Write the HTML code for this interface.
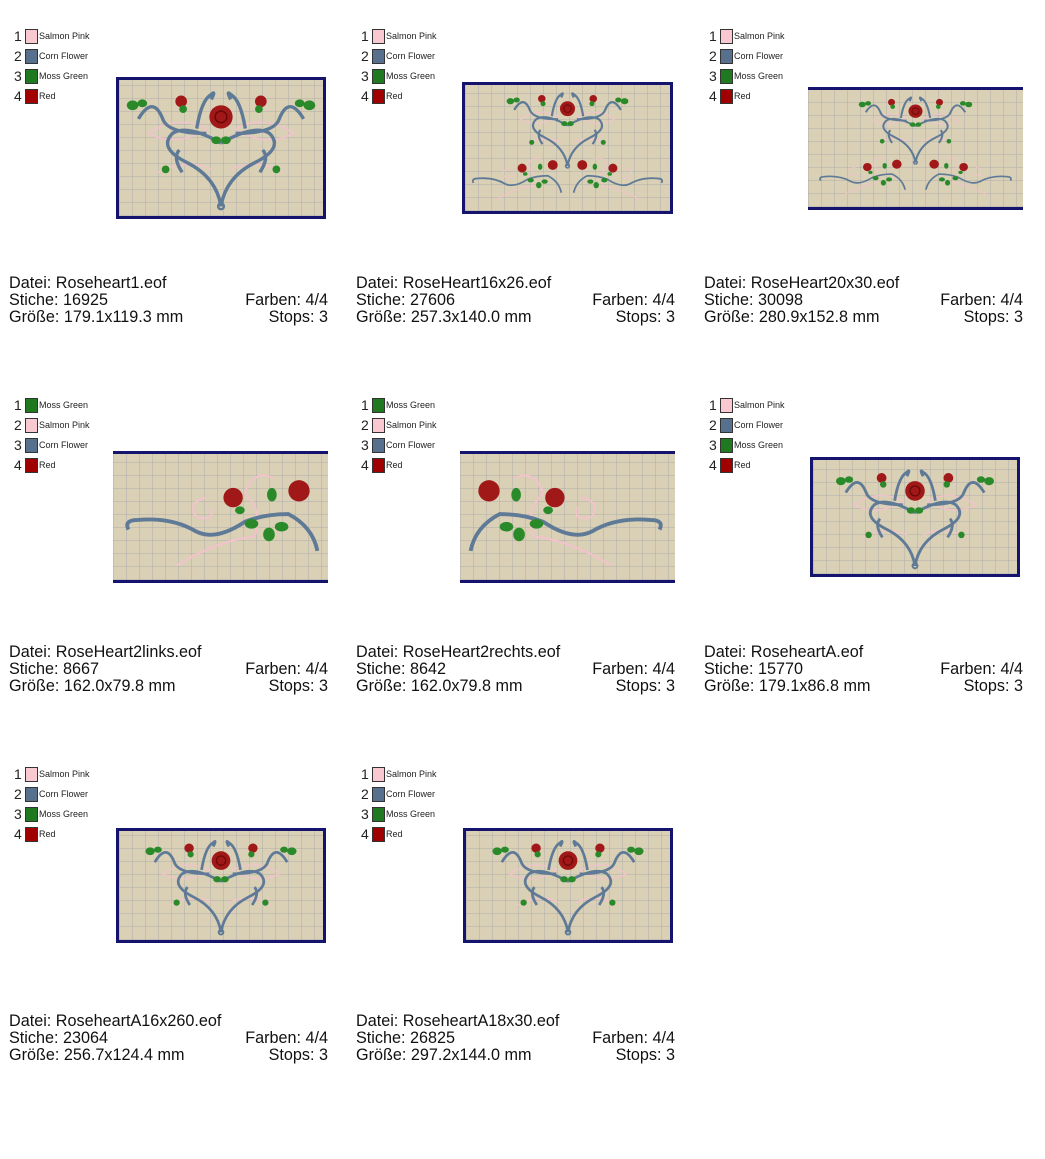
<!DOCTYPE html>
<html><head><meta charset="utf-8"><style>
body{margin:0;width:1045px;height:1159px;background:#fff;position:relative;overflow:hidden;font-family:"Liberation Sans",Arial,sans-serif;}
.lg{position:absolute;width:120px;}
.lg div{position:relative;height:20px;}
.lg .n{position:absolute;left:0;top:0;font-size:14px;line-height:16px;color:#222;}
.lg .s{position:absolute;left:11px;top:1px;width:11px;height:13px;border:1px solid #333;}
.lg .t{position:absolute;left:25px;top:3px;font-size:9px;line-height:10px;color:#222;}
.sp{background:#f9c8d0}.cf{background:#56708e}.mg{background:#1f7a1f}.rd{background:#a00000}
.tx{position:absolute;width:319px;font-size:16.2px;line-height:17px;color:#111;}
.tx div{position:relative;height:17px;white-space:nowrap;}
.tx span{position:absolute;right:0;top:0;}
.im{position:absolute;box-sizing:border-box;background-color:#d9d0b6;
background-image:repeating-linear-gradient(90deg,rgba(160,160,170,.35) 0 1px,transparent 1px 13px),repeating-linear-gradient(0deg,rgba(160,160,170,.35) 0 1px,transparent 1px 13px);}
.fb{border:3px solid #14146e}.tb{border-top:3px solid #14146e;border-bottom:3px solid #14146e}
.im svg{position:absolute;left:0;top:0;width:100%;height:100%;}
</style></head><body>
<svg width="0" height="0" style="position:absolute">
<defs>
<symbol id="heart" viewBox="0 0 210 140">
<g fill="none" stroke="#f4c2cc" stroke-width="1.5"><path d="M30 55 Q60 35 90 50 Q60 70 30 55Z"/><path d="M180 55 Q150 35 120 50 Q150 70 180 55Z"/><path d="M40 95 Q70 80 95 92"/><path d="M170 95 Q140 80 115 92"/></g>
<g fill="none" stroke="#5f7a96" stroke-width="3.5">
<path d="M105 130 Q100 100 70 85 Q40 70 55 55 Q70 45 105 65"/><path d="M105 130 Q110 100 140 85 Q170 70 155 55 Q140 45 105 65"/>
<path d="M20 40 Q35 15 45 40 Q50 55 90 55"/><path d="M190 40 Q175 15 165 40 Q160 55 120 55"/>
<path d="M80 50 Q85 20 95 15 Q100 10 95 20"/><path d="M130 50 Q125 20 115 15 Q110 10 115 20"/>
<path d="M65 95 Q55 80 62 72"/><path d="M145 95 Q155 80 148 72"/><circle cx="105" cy="130" r="3" stroke-width="2.5"/></g>
<circle cx="105" cy="38" r="12" fill="#a01818"/><circle cx="105" cy="38" r="6" fill="none" stroke="#6a0808" stroke-width="1.5"/>
<circle cx="64" cy="22" r="6" fill="#a01818"/><circle cx="146" cy="22" r="6" fill="#a01818"/>
<g fill="#2a8a2a"><ellipse cx="100" cy="62" rx="5" ry="4"/><ellipse cx="110" cy="62" rx="5" ry="4"/><ellipse cx="14" cy="26" rx="6" ry="5"/><ellipse cx="24" cy="24" rx="5" ry="4"/><ellipse cx="196" cy="26" rx="6" ry="5"/><ellipse cx="186" cy="24" rx="5" ry="4"/><ellipse cx="66" cy="30" rx="4" ry="4"/><ellipse cx="144" cy="30" rx="4" ry="4"/><ellipse cx="48" cy="92" rx="4" ry="4"/><ellipse cx="162" cy="92" rx="4" ry="4"/></g>
</symbol>
<symbol id="vine" viewBox="0 0 210 130">
<g fill="none" stroke="#f4c2cc" stroke-width="2"><path d="M60 115 Q100 90 140 85 Q150 60 130 40 Q140 15 160 25"/><path d="M90 45 Q70 50 80 65 Q100 70 95 55"/></g>
<path d="M10 78 Q5 68 20 68 Q55 65 80 80 Q100 90 130 70 Q150 62 175 62 Q200 75 205 100" fill="none" stroke="#5f7a96" stroke-width="4"/>
<circle cx="118" cy="45" r="10" fill="#a01818"/><circle cx="186" cy="38" r="11" fill="#a01818"/>
<g fill="#2a8a2a"><ellipse cx="158" cy="42" rx="5" ry="7"/><ellipse cx="137" cy="72" rx="7" ry="5"/><ellipse cx="155" cy="83" rx="6" ry="7"/><ellipse cx="168" cy="75" rx="7" ry="5"/><ellipse cx="125" cy="58" rx="5" ry="4"/></g>
</symbol>
<symbol id="vineR" viewBox="0 0 210 130"><g transform="translate(210 0) scale(-1 1)"><use href="#vine"/></g></symbol>
</defs></svg>

<div class="lg" style="left:14px;top:28px"><div><span class="n">1</span><span class="s sp"></span><span class="t">Salmon Pink</span></div><div><span class="n">2</span><span class="s cf"></span><span class="t">Corn Flower</span></div><div><span class="n">3</span><span class="s mg"></span><span class="t">Moss Green</span></div><div><span class="n">4</span><span class="s rd"></span><span class="t">Red</span></div></div>
<div class="lg" style="left:361px;top:28px"><div><span class="n">1</span><span class="s sp"></span><span class="t">Salmon Pink</span></div><div><span class="n">2</span><span class="s cf"></span><span class="t">Corn Flower</span></div><div><span class="n">3</span><span class="s mg"></span><span class="t">Moss Green</span></div><div><span class="n">4</span><span class="s rd"></span><span class="t">Red</span></div></div>
<div class="lg" style="left:709px;top:28px"><div><span class="n">1</span><span class="s sp"></span><span class="t">Salmon Pink</span></div><div><span class="n">2</span><span class="s cf"></span><span class="t">Corn Flower</span></div><div><span class="n">3</span><span class="s mg"></span><span class="t">Moss Green</span></div><div><span class="n">4</span><span class="s rd"></span><span class="t">Red</span></div></div>

<div class="lg" style="left:14px;top:397px"><div><span class="n">1</span><span class="s mg"></span><span class="t">Moss Green</span></div><div><span class="n">2</span><span class="s sp"></span><span class="t">Salmon Pink</span></div><div><span class="n">3</span><span class="s cf"></span><span class="t">Corn Flower</span></div><div><span class="n">4</span><span class="s rd"></span><span class="t">Red</span></div></div>
<div class="lg" style="left:361px;top:397px"><div><span class="n">1</span><span class="s mg"></span><span class="t">Moss Green</span></div><div><span class="n">2</span><span class="s sp"></span><span class="t">Salmon Pink</span></div><div><span class="n">3</span><span class="s cf"></span><span class="t">Corn Flower</span></div><div><span class="n">4</span><span class="s rd"></span><span class="t">Red</span></div></div>
<div class="lg" style="left:709px;top:397px"><div><span class="n">1</span><span class="s sp"></span><span class="t">Salmon Pink</span></div><div><span class="n">2</span><span class="s cf"></span><span class="t">Corn Flower</span></div><div><span class="n">3</span><span class="s mg"></span><span class="t">Moss Green</span></div><div><span class="n">4</span><span class="s rd"></span><span class="t">Red</span></div></div>

<div class="lg" style="left:14px;top:766px"><div><span class="n">1</span><span class="s sp"></span><span class="t">Salmon Pink</span></div><div><span class="n">2</span><span class="s cf"></span><span class="t">Corn Flower</span></div><div><span class="n">3</span><span class="s mg"></span><span class="t">Moss Green</span></div><div><span class="n">4</span><span class="s rd"></span><span class="t">Red</span></div></div>
<div class="lg" style="left:361px;top:766px"><div><span class="n">1</span><span class="s sp"></span><span class="t">Salmon Pink</span></div><div><span class="n">2</span><span class="s cf"></span><span class="t">Corn Flower</span></div><div><span class="n">3</span><span class="s mg"></span><span class="t">Moss Green</span></div><div><span class="n">4</span><span class="s rd"></span><span class="t">Red</span></div></div>

<div class="im fb" style="left:116px;top:77px;width:210px;height:142px"><svg preserveAspectRatio="none"><use href="#heart"/></svg></div>
<div class="im fb" style="left:462px;top:82px;width:211px;height:132px"><svg viewBox="0 0 210 130" preserveAspectRatio="none"><use href="#heart" width="210" height="90" x="0" y="0"/><use href="#vine" width="105" height="60" x="0" y="65"/><use href="#vineR" width="105" height="60" x="105" y="65"/></svg></div>
<div class="im tb" style="left:808px;top:87px;width:215px;height:123px"><svg viewBox="0 0 210 120" preserveAspectRatio="none"><use href="#heart" width="210" height="80" x="0" y="0"/><use href="#vine" width="105" height="55" x="0" y="60"/><use href="#vineR" width="105" height="55" x="105" y="60"/></svg></div>
<div class="im tb" style="left:113px;top:451px;width:215px;height:132px"><svg preserveAspectRatio="none"><use href="#vine"/></svg></div>
<div class="im tb" style="left:460px;top:451px;width:215px;height:132px"><svg preserveAspectRatio="none"><use href="#vineR"/></svg></div>
<div class="im fb" style="left:810px;top:457px;width:210px;height:120px"><svg preserveAspectRatio="none"><use href="#heart"/></svg></div>
<div class="im fb" style="left:116px;top:828px;width:210px;height:115px"><svg preserveAspectRatio="none"><use href="#heart"/></svg></div>
<div class="im fb" style="left:463px;top:828px;width:210px;height:115px"><svg preserveAspectRatio="none"><use href="#heart"/></svg></div>

<div class="tx" style="left:9px;top:275px"><div>Datei: Roseheart1.eof</div><div>Stiche: 16925<span>Farben: 4/4</span></div><div>Größe: 179.1x119.3 mm<span>Stops: 3</span></div></div>
<div class="tx" style="left:356px;top:275px"><div>Datei: RoseHeart16x26.eof</div><div>Stiche: 27606<span>Farben: 4/4</span></div><div>Größe: 257.3x140.0 mm<span>Stops: 3</span></div></div>
<div class="tx" style="left:704px;top:275px"><div>Datei: RoseHeart20x30.eof</div><div>Stiche: 30098<span>Farben: 4/4</span></div><div>Größe: 280.9x152.8 mm<span>Stops: 3</span></div></div>

<div class="tx" style="left:9px;top:644px"><div>Datei: RoseHeart2links.eof</div><div>Stiche: 8667<span>Farben: 4/4</span></div><div>Größe: 162.0x79.8 mm<span>Stops: 3</span></div></div>
<div class="tx" style="left:356px;top:644px"><div>Datei: RoseHeart2rechts.eof</div><div>Stiche: 8642<span>Farben: 4/4</span></div><div>Größe: 162.0x79.8 mm<span>Stops: 3</span></div></div>
<div class="tx" style="left:704px;top:644px"><div>Datei: RoseheartA.eof</div><div>Stiche: 15770<span>Farben: 4/4</span></div><div>Größe: 179.1x86.8 mm<span>Stops: 3</span></div></div>

<div class="tx" style="left:9px;top:1013px"><div>Datei: RoseheartA16x260.eof</div><div>Stiche: 23064<span>Farben: 4/4</span></div><div>Größe: 256.7x124.4 mm<span>Stops: 3</span></div></div>
<div class="tx" style="left:356px;top:1013px"><div>Datei: RoseheartA18x30.eof</div><div>Stiche: 26825<span>Farben: 4/4</span></div><div>Größe: 297.2x144.0 mm<span>Stops: 3</span></div></div>
</body></html>
